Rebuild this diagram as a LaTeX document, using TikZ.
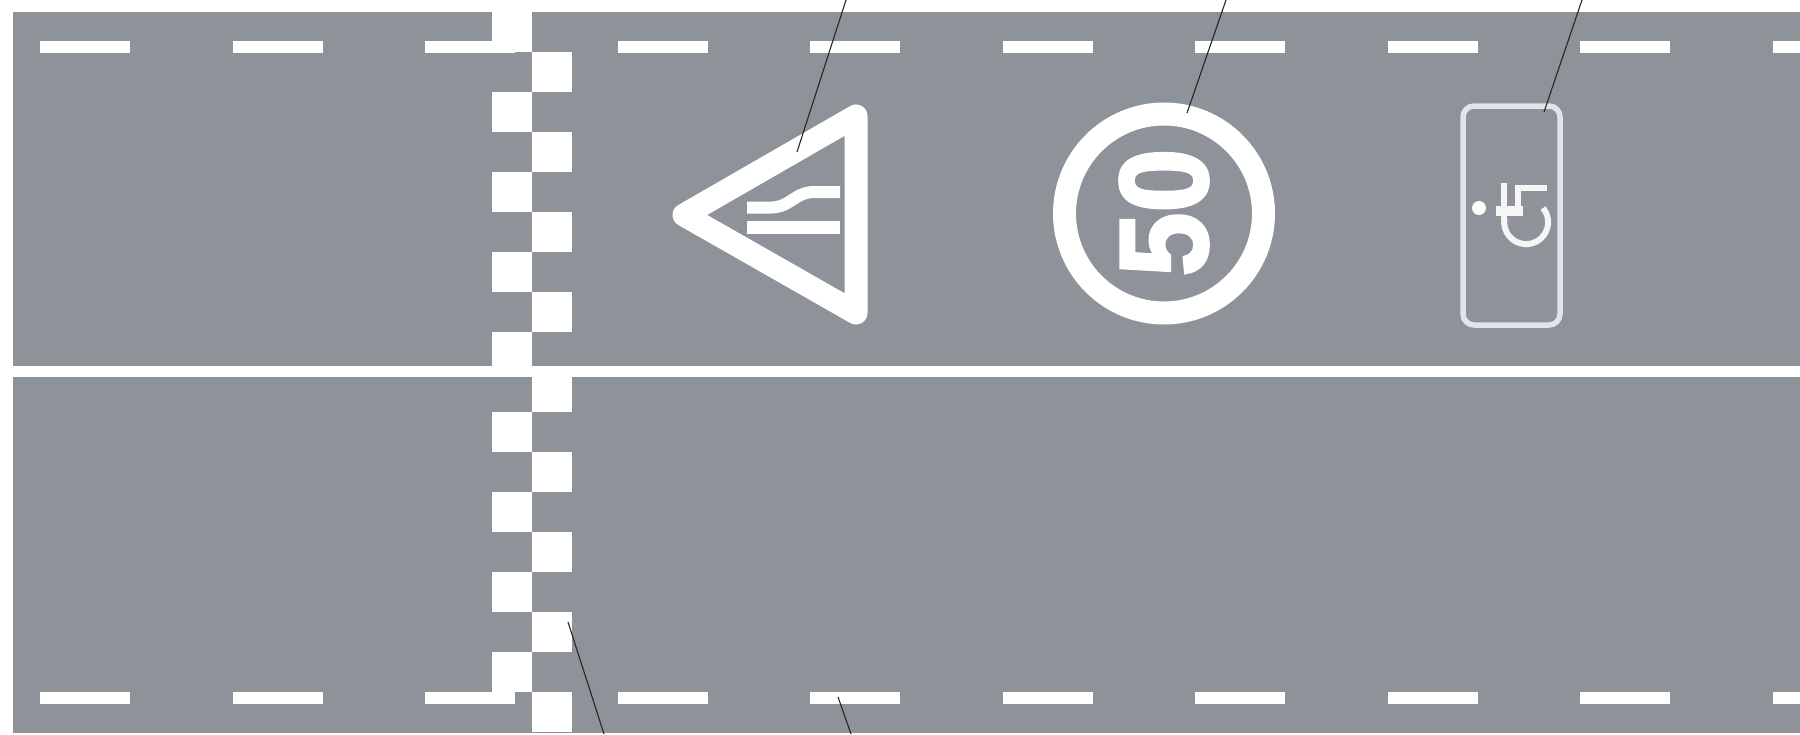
\documentclass[tikz,border=0pt]{standalone}
\usepackage{fontspec}
\setmainfont{Liberation Sans}
\newfontfamily\speedfont[BoldFeatures={FakeBold=2.5}]{Liberation Sans}
\definecolor{roadgrey}{HTML}{8D9399}
\definecolor{palewhite}{HTML}{E1E4EA}
\tikzset{
    roadmark/.style={fill=white, draw=none},
    signline/.style={draw=white, line width=23pt, line join=round},
    chairline/.style={draw=white!92!roadgrey, line width=6pt},
    leader/.style={draw=black!85, line width=1.1pt}
}

\begin{document}
\begin{tikzpicture}[x=1pt, y=-1pt]
    \useasboundingbox (0,0) rectangle (1800,734);

    % Draw the road surface
    \fill[roadgrey] (13,12) rectangle (1800,733);

    % Draw the dashed edge lines, top and bottom
    \foreach \i in {0,...,9} {
        \fill[roadmark] ({40+192.5*\i},41) rectangle ++(90,12);
        \fill[roadmark] ({40+192.5*\i},692) rectangle ++(90,12);
    }

    % Draw the solid centre line
    \fill[roadmark] (13,365.5) rectangle (1800,376.5);

    % Draw the checkered band across the road
    \foreach \row in {0,2,...,16} {
        \fill[roadmark] (492,{12+40*\row}) rectangle ++(40,40);
        \fill[roadmark] (532,{52+40*\row}) rectangle ++(40,40);
    }

    % Draw the triangular sign with its two lanes
    \draw[signline] (684,215) -- (856,116) -- (856,313) -- cycle;
    \draw[white, line width=12pt, rounded corners=8pt] (747,207.5) -- (780,207.5) -- (805,192) -- (840,192);
    \fill[roadmark] (747,221) rectangle (840,234);

    % Draw the round speed sign
    \draw[signline] (1164,213.5) circle[radius=99.5pt];
    \node[text=white, font=\speedfont\bfseries\fontsize{125}{125}\selectfont, inner sep=0pt, rotate=90, xscale=.92] (speedvalue) at (1164,212.5) {50};

    % Draw the rounded box with the wheelchair symbol
    \draw[palewhite, line width=5.5pt, rounded corners=11pt] (1463,106) rectangle (1560,325);
    \fill[white] (1479,208) circle[radius=7pt];
    \draw[chairline] (1504,183) -- (1504,220);
    \draw[chairline, line width=10pt] (1496,211) -- (1523,211);
    \draw[chairline] (1547,188) -- (1518,188) -- (1518,208);
    \draw[chairline] (1543,208) arc[start angle=40, end angle=-190, radius=22pt];

    % Draw the leader lines running off the picture
    \coordinate (triangletop) at (846,0);
    \coordinate (triangleend) at (797,152);
    \coordinate (circletop) at (1226,0);
    \coordinate (circleend) at (1187,113);
    \coordinate (boxtop) at (1582,0);
    \coordinate (boxend) at (1544,112);
    \coordinate (bandend) at (568,622);
    \coordinate (bandfoot) at (604,734);
    \coordinate (dashend) at (838,697);
    \coordinate (dashfoot) at (851,734);
    \draw[leader] (triangletop) -- (triangleend);
    \draw[leader] (circletop) -- (circleend);
    \draw[leader] (boxtop) -- (boxend);
    \draw[leader] (bandend) -- (bandfoot);
    \draw[leader] (dashend) -- (dashfoot);
\end{tikzpicture}
\end{document}
